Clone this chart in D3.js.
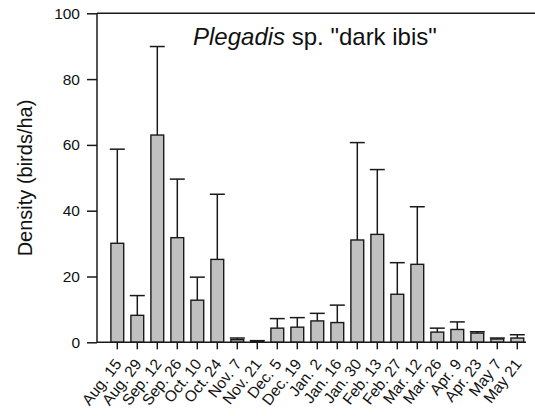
<!DOCTYPE html>
<html><head><meta charset="utf-8">
<script src="https://cdn.jsdelivr.net/npm/d3@7"></script>
<style>html,body{margin:0;padding:0;background:#fff;}svg{display:block;font-family:"Liberation Sans",Arial,sans-serif;}</style>
</head><body>
<svg id="chart" width="535" height="416"></svg>
<script>
const categories = ["Aug. 15","Aug. 29","Sep. 12","Sep. 26","Oct. 10","Oct. 24","Nov. 7","Nov. 21","Dec. 5","Dec. 19","Jan. 2","Jan. 16","Jan. 30","Feb. 13","Feb. 27","Mar. 12","Mar. 26","Apr. 9","Apr. 23","May 7","May 21"];
const density = [30.1, 8.2, 63.0, 31.8, 12.8, 25.2, 0.8, 0.3, 4.3, 4.6, 6.5, 6.0, 31.1, 32.8, 14.6, 23.7, 3.1, 3.9, 2.8, 1.0, 1.3];
const errorUp = [28.6, 6.0, 26.9, 17.8, 7.0, 19.8, 0.5, 0.2, 2.9, 2.9, 2.3, 5.3, 29.6, 19.7, 9.6, 17.5, 1.2, 2.3, 0.4, 0.3, 1.0];
const yTicks = [0, 20, 40, 60, 80, 100];
const yLabel = "Density (birds/ha)";

(function () {
const svg = d3.select("#chart");
const mLeft = 97, mTop = 13.3, mBottom = 342.3, axisRight = 526;
const x = d3.scaleBand().domain(categories).range([107.3, 527.3]).paddingInner(0.36).paddingOuter(0.18);
const y = d3.scaleLinear().domain([0, 100]).range([mBottom, mTop]);
const stroke = "#1a1a1a";

// top frame line
svg.append("line").attr("x1", mLeft).attr("x2", 535).attr("y1", y(100)).attr("y2", y(100))
  .attr("stroke", stroke).attr("stroke-width", 1.5);

const data = categories.map((c, i) => ({c, v: density[i], e: errorUp[i]}));
const g = svg.append("g");
g.selectAll(".err").data(data).join("line").attr("class", "err")
  .attr("x1", d => x(d.c) + x.bandwidth()/2).attr("x2", d => x(d.c) + x.bandwidth()/2)
  .attr("y1", d => y(d.v)).attr("y2", d => y(d.v + d.e))
  .attr("stroke", stroke).attr("stroke-width", 1.5);
g.selectAll(".cap").data(data).join("line").attr("class", "cap")
  .attr("x1", d => x(d.c) + x.bandwidth()/2 - 7.5).attr("x2", d => x(d.c) + x.bandwidth()/2 + 7.5)
  .attr("y1", d => y(d.v + d.e)).attr("y2", d => y(d.v + d.e))
  .attr("stroke", stroke).attr("stroke-width", 1.5);
g.selectAll("rect").data(data).join("rect")
  .attr("x", d => x(d.c)).attr("width", x.bandwidth())
  .attr("y", d => y(d.v)).attr("height", d => y(0) - y(d.v))
  .attr("fill", "#c0c0c0").attr("stroke", stroke).attr("stroke-width", 1.4);

// y axis
const yAxis = d3.axisLeft(y).tickValues(yTicks).tickSize(10).tickPadding(7).tickFormat(d3.format("d"));
const ya = svg.append("g").attr("transform", `translate(${mLeft},0)`).call(yAxis);
ya.select(".domain").attr("stroke", stroke).attr("stroke-width", 1.5).attr("d", `M0,${y(100)}V${y(0)}`);
ya.selectAll(".tick line").attr("stroke", stroke).attr("stroke-width", 1.5);
ya.selectAll(".tick text").attr("font-size", 15.5).attr("fill", "#111").attr("font-family", "Liberation Sans, Arial, sans-serif");

// x axis
const xAxis = d3.axisBottom(x).tickSize(7).tickSizeOuter(0);
const xa = svg.append("g").attr("transform", `translate(0,${mBottom})`).call(xAxis);
xa.select(".domain").attr("stroke", stroke).attr("stroke-width", 1.5).attr("d", `M${mLeft},0H${axisRight}`);
xa.selectAll(".tick line").attr("stroke", stroke).attr("stroke-width", 1.5);
xa.selectAll(".tick text")
  .attr("font-size", 15.5).attr("fill", "#111").attr("font-family", "Liberation Sans, Arial, sans-serif")
  .attr("text-anchor", "end").attr("dy", 0).attr("y", 0)
  .attr("transform", "translate(5,22) rotate(-52)");

// y label
svg.append("text").attr("transform", `translate(31.5,178) rotate(-90)`)
  .attr("text-anchor", "middle").attr("font-size", 20).attr("fill", "#111").text(yLabel);

// title
const t = svg.append("text").attr("x", 193).attr("y", 45).attr("font-size", 24).attr("fill", "#111");
t.append("tspan").attr("font-style", "italic").text("Plegadis");
t.append("tspan").text(" sp. \"dark ibis\"");
})();
</script>
</body></html>
